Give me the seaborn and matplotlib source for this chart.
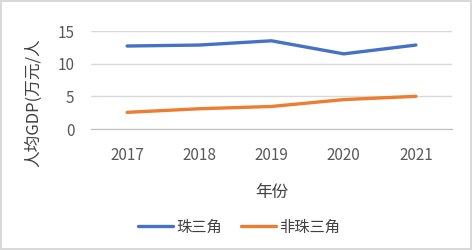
import numpy as np
import pandas as pd
import matplotlib
matplotlib.use("Agg")
import matplotlib.pyplot as plt
from matplotlib.ticker import MultipleLocator
import seaborn as sns

years = [2017, 2018, 2019, 2020, 2021]
prd = [12.7, 12.85, 13.5, 11.5, 12.85]      # 珠三角
non_prd = [2.55, 3.1, 3.45, 4.5, 5.0]       # 非珠三角
series_names = ["珠三角", "非珠三角"]
colors = ["#4472C4", "#ED7D31"]

df = pd.DataFrame({
    "年份": years * 2,
    "value": prd + non_prd,
    "region": [series_names[0]] * len(years) + [series_names[1]] * len(years),
})

sns.set_style("white")
plt.rcParams["font.family"] = ["Noto Sans CJK SC", "DejaVu Sans"]

fig = plt.figure(figsize=(4.72, 2.5), dpi=100)
fig.patch.set_edgecolor("#D9D9D9")
fig.patch.set_linewidth(1.5)
ax = fig.add_axes([91 / 472, 1 - 129 / 250, (452 - 91) / 472, 98 / 250])

sns.lineplot(data=df, x="年份", y="value", hue="region", palette=colors,
             linewidth=2.4, ax=ax, legend=True)

ax.set_xlim(2016.5, 2021.5)
ax.set_ylim(0, 15)
ax.set_yticks([0, 5, 10, 15])
ax.set_xticks(years)
ax.xaxis.set_minor_locator(MultipleLocator(1, offset=0.5))
ax.grid(axis="y", color="#D9D9D9", linewidth=1)
ax.set_axisbelow(True)
for s in ["left", "right", "top"]:
    ax.spines[s].set_visible(False)
ax.spines["bottom"].set_color("#BFBFBF")
ax.tick_params(axis="x", which="major", length=0, pad=13, labelsize=11, labelcolor="#595959")
ax.tick_params(axis="x", which="minor", length=5, color="#BFBFBF", width=1)
ax.tick_params(axis="y", length=0, pad=12, labelsize=11, labelcolor="#595959")

ax.set_xlabel("年份", fontsize=12, color="#404040", labelpad=14)
ax.set_ylabel("人均GDP(万元/人", fontsize=12, color="#404040")
ax.yaxis.set_label_coords(-0.136, 0.27)

handles, labels = ax.get_legend_handles_labels()
ax.legend(handles, labels, loc="center", bbox_to_anchor=(239 / 472, 1 - 227 / 250),
          bbox_transform=fig.transFigure, ncol=2, frameon=False, fontsize=11,
          handlelength=2.3, handletextpad=0.2, columnspacing=1.2,
          labelcolor="#404040")

fig.savefig("out.png", dpi=100, edgecolor=fig.get_edgecolor())
